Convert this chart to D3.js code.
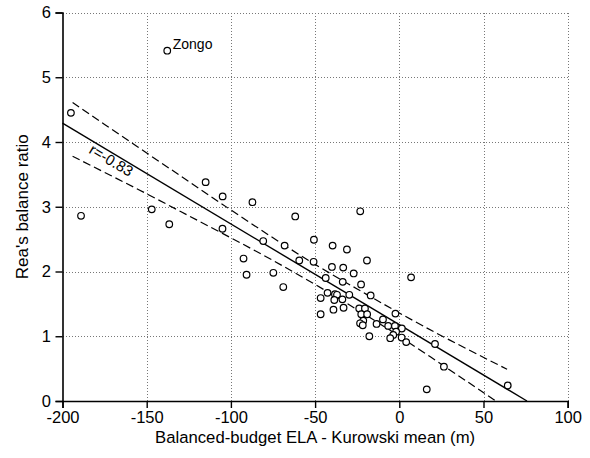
<!DOCTYPE html>
<html>
<head>
<meta charset="utf-8">
<script src="https://cdn.jsdelivr.net/npm/d3@7"></script>
<style>
  html, body { margin: 0; padding: 0; background: #fff; }
  svg { display: block; }
  text { font-family: "Liberation Sans", Arial, sans-serif; fill: #000; }
</style>
</head>
<body>
<svg id="chart" width="590" height="458"></svg>
<script>
// ---- data ----
const xVals = [-195, -137.8, -189, -147, -136.6, -115, -104.9, -105, -87.2, -61.8,
  -23.2, -80.8, -68.1, -50.7, -39.6, -31.1, -19.2, -92.5, -90.7, -74.8,
  -68.9, -59.4, -50.9, -40.0, -33.3, -27.1, -43.7, -33.6, -22.7, -17.0,
  -42.6, -38.2, -37.0, -29.7, -46.7, -38.6, -33.8, -46.7, -39.1, -33.1,
  -23.8, -20.4, -22.6, -19.1, -21.4, -23.3, -21.7, -17.8, -13.5, -9.7,
  -6.6, -2.3, -2.6, 1.5, -1.9, -3.6, -5.4, 1.4, 4.1, 7.0,
  21.2, 26.5, 16.3, 64.4];
const yVals = [4.45, 5.41, 2.86, 2.96, 2.73, 3.38, 3.16, 2.66, 3.07, 2.85,
  2.93, 2.47, 2.40, 2.49, 2.40, 2.34, 2.17, 2.20, 1.95, 1.98,
  1.76, 2.17, 2.15, 2.07, 2.06, 1.97, 1.90, 1.84, 1.80, 1.63,
  1.67, 1.65, 1.64, 1.64, 1.59, 1.56, 1.57, 1.34, 1.41, 1.44,
  1.43, 1.43, 1.34, 1.34, 1.24, 1.20, 1.17, 1.00, 1.19, 1.26,
  1.16, 1.35, 1.16, 1.12, 1.07, 1.02, 0.97, 0.98, 0.91, 1.91,
  0.88, 0.53, 0.18, 0.24];
const pointLabels = [null, "Zongo"];

const regX = [-200, 75.8];
const regY = [4.29, 0];
const upperX = [-194, -175, -150, -125, -100, -75, -50, -25, 0, 30, 64];
const upperY = [4.61, 4.27, 3.83, 3.39, 2.95, 2.52, 2.11, 1.73, 1.36, 0.94, 0.49];
const lowerX = [-194, -175, -150, -125, -100, -75, -50, -25, 0, 30, 57.4];
const lowerY = [3.78, 3.53, 3.20, 2.86, 2.52, 2.17, 1.80, 1.41, 1.00, 0.48, 0.0];
const rLabel = "r=-0.83";
const rLabelPos = [-171, 3.72];

const xTicks = [-200, -150, -100, -50, 0, 50, 100];
const yTicks = [0, 1, 2, 3, 4, 5, 6];
const xTitle = "Balanced-budget ELA - Kurowski mean (m)";
const yTitle = "Rea's balance ratio";

// ---- layout ----
const W = 590, H = 458;
const m = { left: 62.5, right: 22.3, top: 12.5, bottom: 57 };
const svg = d3.select("#chart");

const x = d3.scaleLinear().domain([-200, 100]).range([m.left, W - m.right]);
const y = d3.scaleLinear().domain([0, 6]).range([H - m.bottom, m.top]);

// grid
const grid = svg.append("g").attr("stroke", "#777").attr("stroke-width", 1)
  .attr("stroke-dasharray", "1,2").attr("shape-rendering", "crispEdges");
grid.selectAll("line.vx").data(xTicks.filter(d => d > -200)).join("line")
  .attr("x1", d => Math.round(x(d)) + 0.5).attr("x2", d => Math.round(x(d)) + 0.5)
  .attr("y1", y(6)).attr("y2", y(0));
grid.selectAll("line.hy").data(yTicks.filter(d => d > 0)).join("line")
  .attr("y1", d => Math.round(y(d)) + 0.5).attr("y2", d => Math.round(y(d)) + 0.5)
  .attr("x1", x(-200)).attr("x2", x(100));

// axes
const xAxis = svg.append("g").attr("transform", `translate(0,${y(0)})`)
  .call(d3.axisBottom(x).tickValues(xTicks).tickFormat(d3.format("d")).tickSizeOuter(0).tickSize(7).tickPadding(3));
const yAxis = svg.append("g").attr("transform", `translate(${x(-200)},0)`)
  .call(d3.axisLeft(y).tickValues(yTicks).tickFormat(d3.format("d")).tickSizeOuter(0).tickSize(7).tickPadding(3));
[xAxis, yAxis].forEach(a => {
  a.select(".domain").attr("stroke", "#000").attr("stroke-width", 1.6);
  a.selectAll(".tick line").attr("stroke", "#000").attr("stroke-width", 1.4);
  a.selectAll(".tick text").attr("font-size", 16.5).attr("fill", "#000")
    .attr("font-family", "'Liberation Sans', Arial, sans-serif");
});
xAxis.selectAll(".tick text").text(d => d < 0 ? "-" + Math.abs(d) : d);
yAxis.selectAll(".tick text").attr("dx", "-0.1em");

// regression and confidence band
const line = d3.line().x(d => x(d[0])).y(d => y(d[1]));
svg.append("path").datum(d3.zip(regX, regY)).attr("d", line)
  .attr("fill", "none").attr("stroke", "#000").attr("stroke-width", 1.4);
const curved = d3.line().x(d => x(d[0])).y(d => y(d[1])).curve(d3.curveNatural);
svg.append("path").datum(d3.zip(upperX, upperY)).attr("d", curved)
  .attr("fill", "none").attr("stroke", "#000").attr("stroke-width", 1.2).attr("stroke-dasharray", "8,4");
svg.append("path").datum(d3.zip(lowerX, lowerY)).attr("d", curved)
  .attr("fill", "none").attr("stroke", "#000").attr("stroke-width", 1.2).attr("stroke-dasharray", "8,4");

// r label rotated along the regression line
const ang = Math.atan2(y(regY[1]) - y(regY[0]), x(regX[1]) - x(regX[0])) * 180 / Math.PI;
svg.append("text")
  .attr("transform", `translate(${x(rLabelPos[0])},${y(rLabelPos[1])}) rotate(${ang})`)
  .attr("text-anchor", "middle").attr("dominant-baseline", "central")
  .attr("font-size", 15).text(rLabel);

// points
const pts = d3.zip(xVals, yVals);
svg.append("g").selectAll("circle").data(pts).join("circle")
  .attr("cx", d => x(d[0])).attr("cy", d => y(d[1])).attr("r", 3.3)
  .attr("fill", "#fff").attr("stroke", "#000").attr("stroke-width", 1.2);

svg.append("g").selectAll("text").data(pts.map((d, i) => [d, pointLabels[i]]).filter(d => d[1]))
  .join("text")
  .attr("x", d => x(d[0][0]) + 5.5).attr("y", d => y(d[0][1]) - 2)
  .attr("font-size", 14).text(d => d[1]);

// titles
svg.append("text").attr("x", (x(-200) + x(100)) / 2).attr("y", 443)
  .attr("text-anchor", "middle").attr("font-size", 16.7).text(xTitle);
svg.append("text").attr("transform", `translate(28,${(y(0) + y(6)) / 2}) rotate(-90)`)
  .attr("text-anchor", "middle").attr("font-size", 17).text(yTitle);
</script>
</body>
</html>
